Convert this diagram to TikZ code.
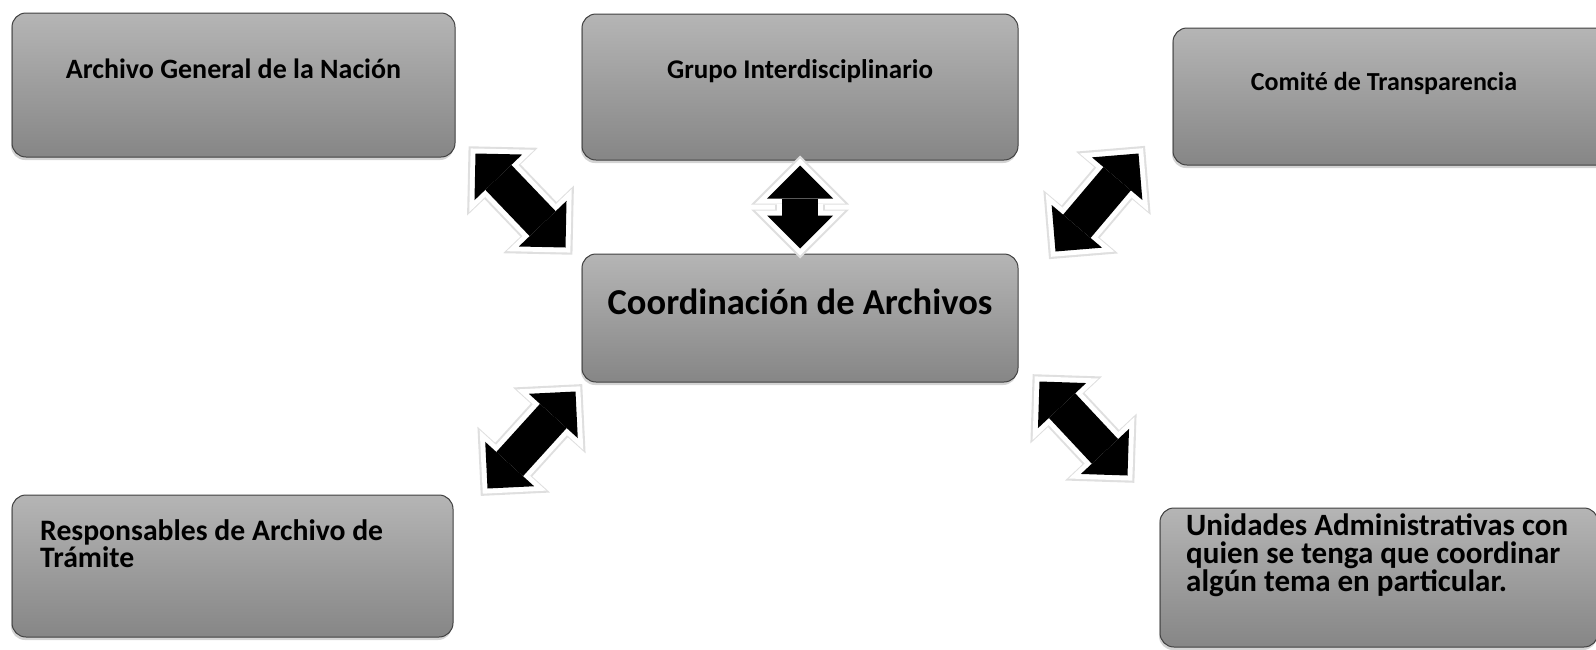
\documentclass[tikz,border=0pt]{standalone}
\usepackage{fontspec}
\setmainfont{Carlito}
\usetikzlibrary{arrows.meta, shadows}

\tikzset{
  box/.style={rectangle, rounded corners=14pt, draw=black!75, line width=1pt,
    top color=gray!58, bottom color=gray!95,
    drop shadow={shadow xshift=-1pt, shadow yshift=-3pt, opacity=.35}},
  boxtext/.style={inner sep=0pt, font=\bfseries\fontsize{#1}{28}\selectfont},
  boxtext/.default=27,
  Fat/.tip={Triangle[width=66pt,length=33pt,line width=0pt]},
  Glow/.tip={Triangle[width=90pt,length=45pt,line width=0pt]},
  Rim/.tip={Triangle[width=98pt,length=49pt,line width=0pt]},
  link/.style={Fat-Fat, draw=black, line width=36pt,
    preaction={draw=gray!25, line width=50pt, Rim-Rim, shorten <=-10pt, shorten >=-10pt},
    preaction={draw=white, line width=46pt, Glow-Glow, shorten <=-7pt, shorten >=-7pt}},
}

\begin{document}
\begin{tikzpicture}[x=1pt, y=-1pt]
\useasboundingbox (0,0) rectangle (1596,649);
\clip (0,0) rectangle (1596,649);

% cajas
\node[box, minimum width=443pt, minimum height=144pt] (agn) at (233.5,85) {};
\node[box, minimum width=436pt, minimum height=146pt] (gi) at (800,87) {};
\node[box, minimum width=444pt, minimum height=137pt] (ct) at (1395,96.5) {};
\node[box, minimum width=436pt, minimum height=128pt] (coord) at (800,318) {};
\node[box, minimum width=441pt, minimum height=142pt] (rat) at (232.5,566) {};
\node[box, minimum width=438pt, minimum height=139pt] (ua) at (1379,577.5) {};

% textos
\node[boxtext=28, anchor=base] (agn-t) at (233.5,78) {Archivo General de la Nación};
\node[boxtext, anchor=base] (gi-t) at (800,78) {Grupo Interdisciplinario};
\node[boxtext=26, anchor=base] (ct-t) at (1384,90) {Comité de Transparencia};
\node[boxtext=36.5, anchor=base] (coord-t) at (800,314) {Coordinación de Archivos};
\node[boxtext=29.7, anchor=north west, align=left, font=\bfseries\fontsize{29.7}{27}\selectfont]
  (rat-t) at (40,519) {Responsables de Archivo de\\Trámite};
\node[boxtext=31, anchor=north west, align=left] (ua-t) at (1186,513)
  {Unidades Administrativas con\\quien se tenga que coordinar\\algún tema en particular.};

% flechas
\coordinate (a1s) at ([shift={(20,-4)}]agn.south east);
\coordinate (a1e) at ([shift={(-16,-6)}]coord.north west);
\coordinate (a2s) at ([shift={(0,5)}]gi.south);
\coordinate (a2e) at ([shift={(0,-5)}]coord.north);
\coordinate (a3s) at ([shift={(-34,-12)}]ct.south west);
\coordinate (a3e) at ([shift={(37,-2)}]coord.north east);
\coordinate (a4s) at ([shift={(-6,9)}]coord.south west);
\coordinate (a4e) at ([shift={(34,-6)}]rat.north east);
\coordinate (a5s) at ([shift={(21,-1)}]coord.south east);
\coordinate (a5e) at ([shift={(-32,-32)}]ua.north west);

\draw[link] (a1s) -- (a1e);
\draw[link] (a2s) -- (a2e);
\draw[link] (a3s) -- (a3e);
\draw[link] (a4s) -- (a4e);
\draw[link] (a5s) -- (a5e);

\end{tikzpicture}
\end{document}
